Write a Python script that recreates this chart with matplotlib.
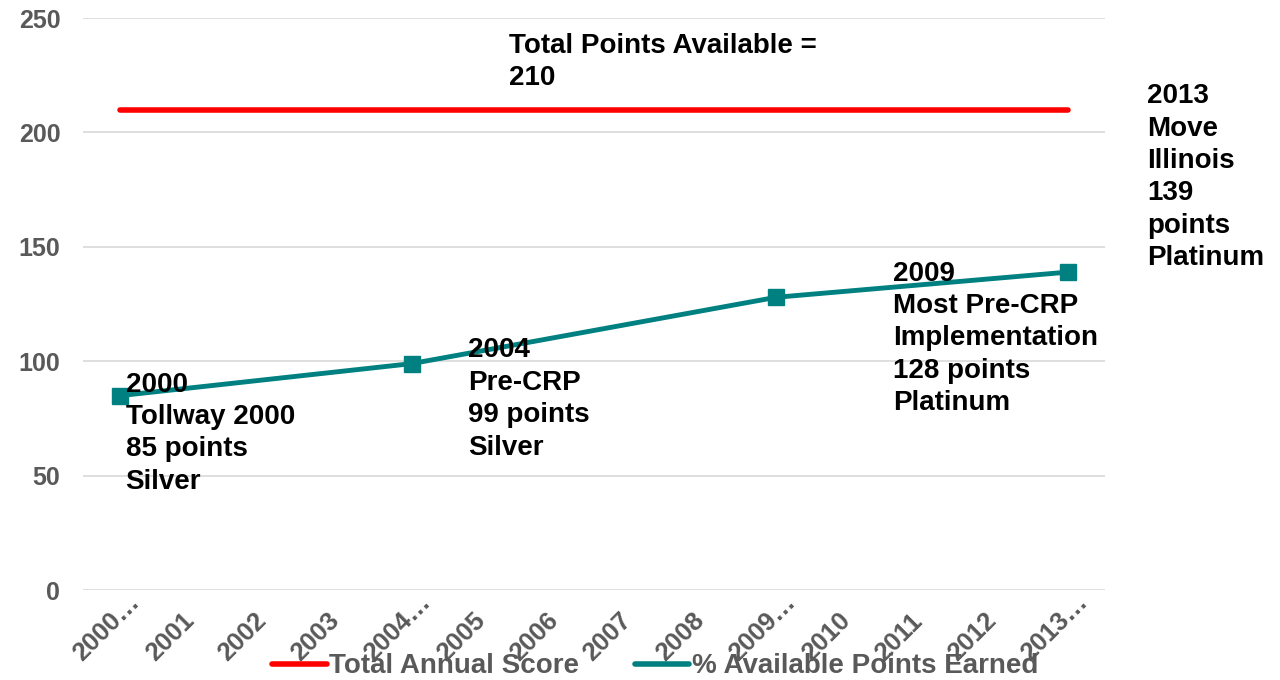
import numpy as np
import matplotlib.pyplot as plt
from matplotlib.lines import Line2D
from matplotlib.transforms import ScaledTranslation

plt.rcParams['font.family'] = ['Liberation Sans', 'DejaVu Sans']
plt.rcParams['font.weight'] = 'bold'

# data
years = ['2000…', '2001', '2002', '2003', '2004…', '2005', '2006', '2007',
         '2008', '2009…', '2010', '2011', '2012', '2013…']
total_score = [210] * 14
earned = [85, None, None, None, 99, None, None, None, None, 128, None, None, None, 139]

labels = ['2000\nTollway 2000\n85 points\nSilver',
          '2004\nPre-CRP\n99 points\nSilver',
          '2009\nMost Pre-CRP\nImplementation\n128 points\nPlatinum',
          '2013\nMove\nIllinois\n139\npoints\nPlatinum']
label_pos = [(0.08, 95.5), (4.78, 110.5), (10.6, 144), (14.08, 221.5)]

RED = '#ff0000'
TEAL = '#008080'
GRAY = '#595959'

fig = plt.figure(figsize=(12.8, 6.8), dpi=100)
ax = fig.add_axes([0.065, 0.132, 0.798, 0.8415])

x = np.arange(len(years))
e = np.array([np.nan if v is None else v for v in earned], dtype=float)
mask = ~np.isnan(e)

ax.plot(x, total_score, color=RED, lw=4, solid_capstyle='round', zorder=3)
ax.plot(x[mask], e[mask], color=TEAL, lw=3.5, marker='s', markersize=11, zorder=3)

ax.set_xlim(-0.5, 13.5)
ax.set_ylim(0, 250)
ax.set_yticks([0, 50, 100, 150, 200, 250])
ax.set_xticks(x)
ax.set_xticklabels(years)
ax.tick_params(axis='both', length=0, labelsize=18, labelcolor=GRAY)
ax.tick_params(axis='x', pad=0, labelsize=18.5)
ax.tick_params(axis='y', pad=16.5)
# rotated labels start at a fixed offset below-left of each tick
off = ScaledTranslation(-0.38, -0.72, fig.dpi_scale_trans)
for lab in ax.get_xticklabels():
    lab.set_rotation(45)
    lab.set_ha('left')
    lab.set_va('baseline')
    lab.set_rotation_mode('anchor')
    lab.set_transform(lab.get_transform() + off)

ax.grid(axis='y', color='#d9d9d9', lw=1.2)
ax.set_axisbelow(True)
for s in ax.spines.values():
    s.set_visible(False)

for t, (px, py) in zip(labels, label_pos):
    ax.text(px, py, t, fontsize=20, fontweight='bold', color='black', va='top', ha='left',
            linespacing=1.32, clip_on=False, zorder=4)

ax.text(5.33, 243.5, 'Total Points Available =\n210', fontsize=20, fontweight='bold',
        color='black', va='top', ha='left', linespacing=1.32)

handles = [Line2D([], [], color=RED, lw=4, solid_capstyle='round'),
           Line2D([], [], color=TEAL, lw=4, solid_capstyle='round')]
fig.legend(handles, ['Total Annual Score', '% Available Points Earned'],
           loc='lower center', bbox_to_anchor=(0.512, -0.036), ncol=2, frameon=False,
           fontsize=20, labelcolor=GRAY, handlelength=1.95, columnspacing=2.0,
           handletextpad=0.1)

plt.savefig('out.png', dpi=100)
